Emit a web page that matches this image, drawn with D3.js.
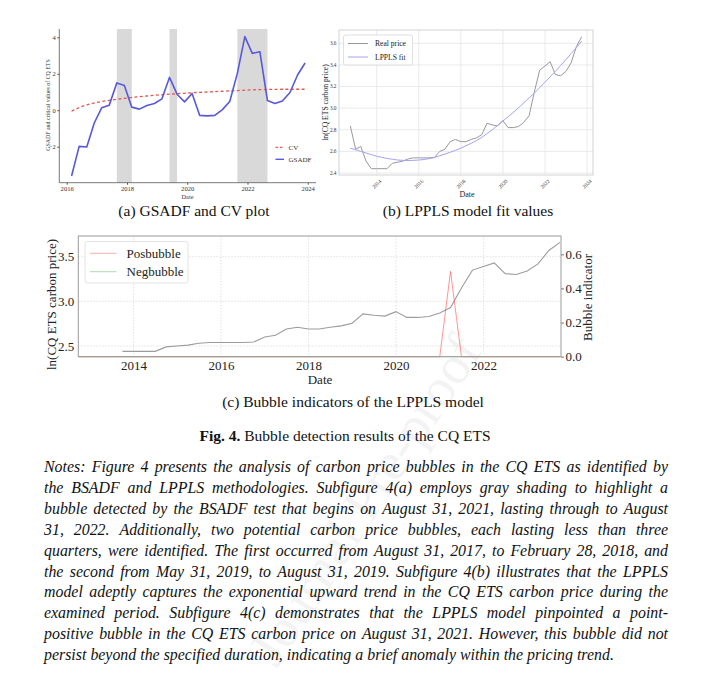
<!DOCTYPE html>
<html><head><meta charset="utf-8">
<script src="https://cdn.jsdelivr.net/npm/d3@7/dist/d3.min.js"></script>
<style>body{margin:0;background:#fff}svg{display:block}</style>
</head><body>
<svg id="fig" width="702" height="681"></svg>
<script>
// ---------- DATA ----------
// (a) GSADF statistic and critical values (quarter-end dates)
const gsadfDates = ["2016-02-29","2016-05-31","2016-08-31","2016-11-30","2017-02-28","2017-05-31","2017-08-31","2017-11-30",
  "2018-02-28","2018-05-31","2018-08-31","2018-11-30","2019-02-28","2019-05-31","2019-08-31","2019-11-30",
  "2020-02-29","2020-05-31","2020-08-31","2020-11-30","2021-02-28","2021-05-31","2021-08-31","2021-11-30",
  "2022-02-28","2022-05-31","2022-08-31","2022-11-30","2023-02-28","2023-05-31","2023-08-31","2023-11-30"];
const gsadfValues = [-3.61,-1.98,-2.02,-0.70,0.13,0.28,1.50,1.36,0.17,0.06,0.26,0.37,0.62,1.80,0.88,0.46,
  0.92,-0.28,-0.31,-0.28,0.02,0.48,2.02,4.04,3.12,3.21,0.53,0.37,0.51,0.97,1.93,2.59];
const cvValues = [-0.05,0.15,0.30,0.40,0.48,0.54,0.60,0.65,0.70,0.74,0.78,0.82,0.85,0.88,0.91,0.93,
  0.96,0.98,1.00,1.02,1.04,1.06,1.08,1.10,1.12,1.13,1.14,1.14,1.15,1.15,1.15,1.15];
const bubbleStarts = ["2017-08-31","2019-05-31","2021-08-31"];
const bubbleEnds   = ["2018-02-28","2019-08-31","2022-08-31"];
const aYTicks = [-2,0,2,4];
const aXTicks = ["2016","2018","2020","2022","2024"];

// (b)/(c) ln carbon price, LPPLS fit, bubble indicators (quarterly)
const priceDates = ["2012-09-30","2012-12-31","2013-03-31","2013-06-30","2013-09-30","2013-12-31","2014-03-31","2014-06-30",
  "2014-09-30","2014-12-31","2015-03-31","2015-06-30","2015-09-30","2015-12-31","2016-03-31","2016-06-30",
  "2016-09-30","2016-12-31","2017-03-31","2017-06-30","2017-09-30","2017-12-31","2018-03-31","2018-06-30",
  "2018-09-30","2018-12-31","2019-03-31","2019-06-30","2019-09-30","2019-12-31","2020-03-31","2020-06-30",
  "2020-09-30","2020-12-31","2021-03-31","2021-06-30","2021-09-30","2021-12-31","2022-03-31","2022-06-30",
  "2022-09-30","2022-12-31","2023-03-31","2023-06-30","2023-09-30"];
const realPrice = [2.835,2.62,2.645,2.51,2.44,2.44,2.44,2.44,2.49,2.50,2.51,2.53,2.54,2.54,2.54,2.54,
  2.545,2.60,2.62,2.69,2.71,2.69,2.69,2.71,2.725,2.755,2.86,2.845,2.835,2.885,2.82,2.82,
  2.83,2.87,2.93,3.15,3.35,3.39,3.43,3.31,3.30,3.34,3.42,3.57,3.66];
const lpplsFit = [2.63,2.615,2.60,2.585,2.57,2.555,2.545,2.535,2.527,2.52,2.517,2.515,2.517,2.52,2.525,2.533,
  2.543,2.56,2.575,2.592,2.61,2.63,2.652,2.675,2.70,2.73,2.765,2.80,2.84,2.88,2.92,2.96,
  3.005,3.05,3.095,3.14,3.19,3.24,3.29,3.34,3.395,3.45,3.505,3.56,3.62];
const posBubble = [0,0,0,0,0,0,0,0,0,0,0,0,0,0,0,0,0,0,0,0,0,0,0,0,0,0,0,0,0,0,0,0,0,0,0.5,0,0,0,0,0,0,0,0,0,0];
const negBubble = [0,0,0,0,0,0,0,0,0,0,0,0,0,0,0,0,0,0,0,0,0,0,0,0,0,0,0,0,0,0,0,0,0,0,0,0,0,0,0,0,0,0,0,0,0];
const indicatorFrom = "2013-09-30";
const bYTicks = [2.4,2.6,2.8,3.0,3.2,3.4,3.6];
const bXTicks = ["2014","2016","2018","2020","2022","2024"];
const cYTicks = [2.5,3.0,3.5];
const cY2Ticks = [0.0,0.2,0.4,0.6];
const cXTicks = ["2014","2016","2018","2020","2022"];

const notesLines = [
 "Notes: Figure 4 presents the analysis of carbon price bubbles in the CQ ETS as identified by",
 "the BSADF and LPPLS methodologies. Subfigure 4(a) employs gray shading to highlight a",
 "bubble detected by the BSADF test that begins on August 31, 2021, lasting through to August",
 "31, 2022. Additionally, two potential carbon price bubbles, each lasting less than three",
 "quarters, were identified. The first occurred from August 31, 2017, to February 28, 2018, and",
 "the second from May 31, 2019, to August 31, 2019. Subfigure 4(b) illustrates that the LPPLS",
 "model adeptly captures the exponential upward trend in the CQ ETS carbon price during the",
 "examined period. Subfigure 4(c) demonstrates that the LPPLS model pinpointed a point-",
 "positive bubble in the CQ ETS carbon price on August 31, 2021. However, this bubble did not",
 "persist beyond the specified duration, indicating a brief anomaly within the pricing trend."];

// ---------- DRAW ----------
const svg = d3.select("#fig");
const serif = "'Liberation Serif','Times New Roman',Times,serif";
const parse = d3.timeParse("%Y-%m-%d");
const yr = s => parse(s + "-01-01");

svg.append("rect").attr("width",702).attr("height",681).attr("fill","#fff");
// faint watermark
svg.append("text").attr("transform","translate(365,500) rotate(-57)")
  .attr("text-anchor","middle").attr("dominant-baseline","central")
  .style("font-family",serif).style("font-size","54px").attr("fill","#f3f3f3")
  .text("Journal Pre-proof");

function txt(g, x, y, s, size, opts={}) {
  const t = g.append("text").attr("x",x).attr("y",y).text(s)
    .style("font-family",serif).style("font-size",size+"px").attr("fill",opts.fill||"#111");
  if (opts.anchor) t.attr("text-anchor",opts.anchor);
  if (opts.rotate!==undefined) t.attr("transform",`rotate(${opts.rotate},${x},${y})`);
  if (opts.weight) t.style("font-weight",opts.weight);
  return t;
}

// ===== Panel (a) =====
{
  const P = {l:59.3, r:316, t:29, b:182.7};
  const g = svg.append("g");
  const x = d3.scaleTime().domain([yr("2016"), yr("2024")]).range([66.7, 307.7]);
  const y = d3.scaleLinear().domain([-2, 4]).range([146.7, 37.3]);
  g.selectAll("rect.band").data(bubbleStarts.map((s,i)=>[s,bubbleEnds[i]])).join("rect")
    .attr("x", d=>x(parse(d[0]))).attr("width", d=>x(parse(d[1]))-x(parse(d[0])))
    .attr("y", P.t).attr("height", P.b-P.t).attr("fill","#d9d9d9");
  const dates = gsadfDates.map(parse);
  const line = d3.line().x((d,i)=>x(dates[i])).y(d=>y(d));
  g.append("path").datum(cvValues).attr("d",line).attr("fill","none")
    .attr("stroke","#e8574f").attr("stroke-width",1.3).attr("stroke-dasharray","3,2.4");
  g.append("path").datum(gsadfValues).attr("d",line).attr("fill","none")
    .attr("stroke","#5858dc").attr("stroke-width",1.6).attr("stroke-linejoin","round");
  g.append("line").attr("x1",P.l).attr("x2",P.l).attr("y1",P.t).attr("y2",P.b).attr("stroke","#555").attr("stroke-width",0.8);
  g.append("line").attr("x1",P.l).attr("x2",P.r).attr("y1",P.b).attr("y2",P.b).attr("stroke","#555").attr("stroke-width",0.8);
  const ax = g.append("g").attr("transform",`translate(0,${P.b})`)
    .call(d3.axisBottom(x).tickValues(aXTicks.map(yr)).tickFormat(d3.timeFormat("%Y")).tickSize(2).tickPadding(1.2));
  ax.select(".domain").remove();
  ax.selectAll("line").attr("stroke","#555");
  ax.selectAll("text").style("font-family",serif).style("font-size","6.6px").attr("fill","#333");
  const ay = g.append("g").attr("transform",`translate(${P.l},0)`)
    .call(d3.axisLeft(y).tickValues(aYTicks).tickFormat(d3.format("d")).tickSize(2).tickPadding(1.5));
  ay.select(".domain").remove();
  ay.selectAll("line").attr("stroke","#555");
  ay.selectAll("text").style("font-family",serif).style("font-size","6.5px").attr("fill","#333");
  txt(g, 187.5, 199, "Date", 6.3, {anchor:"middle", fill:"#333"});
  txt(g, 50, 105, "GSADF and critical values of CQ ETS", 5.9, {anchor:"middle", rotate:-90, fill:"#333"});
  g.append("line").attr("x1",275.5).attr("x2",284).attr("y1",147.3).attr("y2",147.3)
    .attr("stroke","#e8574f").attr("stroke-width",1.2).attr("stroke-dasharray","2.5,2");
  g.append("line").attr("x1",275.5).attr("x2",284).attr("y1",159.3).attr("y2",159.3)
    .attr("stroke","#5858dc").attr("stroke-width",1.4);
  txt(g, 288.5, 149.8, "CV", 7, {fill:"#333"});
  txt(g, 288.5, 161.8, "GSADF", 7, {fill:"#333"});
}

// ===== Panel (b) =====
{
  const P = {l:339, r:593, t:30, b:175};
  const g = svg.append("g");
  const x = d3.scaleTime().domain([yr("2014"), yr("2022")]).range([376.7, 545]);
  const y = d3.scaleLinear().domain([2.4, 3.6]).range([173, 43.3]);
  const dates = priceDates.map(parse);
  g.selectAll("line.gx").data(bXTicks.map(yr)).join("line")
    .attr("x1",d=>x(d)).attr("x2",d=>x(d)).attr("y1",P.t).attr("y2",P.b).attr("stroke","#e4e4e4").attr("stroke-width",0.8);
  g.selectAll("line.gy").data(bYTicks).join("line")
    .attr("x1",P.l).attr("x2",P.r).attr("y1",d=>y(d)).attr("y2",d=>y(d)).attr("stroke","#e4e4e4").attr("stroke-width",0.8);
  const line = d3.line().x((d,i)=>x(dates[i])).y(d=>y(d));
  g.append("path").datum(realPrice).attr("d",line).attr("fill","none").attr("stroke","#999").attr("stroke-width",1);
  g.append("path").datum(lpplsFit).attr("d",line).attr("fill","none").attr("stroke","#a3a3f5").attr("stroke-width",1);
  g.append("rect").attr("x",P.l).attr("y",P.t).attr("width",P.r-P.l).attr("height",P.b-P.t)
    .attr("fill","none").attr("stroke","#cfcfcf").attr("stroke-width",0.9);
  g.selectAll("text.yt").data(bYTicks).join("text")
    .attr("x",P.l-2.5).attr("y",d=>y(d)).attr("dy","0.35em").attr("text-anchor","end")
    .style("font-family",serif).style("font-size","5.3px").attr("fill","#333").text(d3.format(".1f"));
  g.selectAll("text.xt").data(bXTicks).join("text")
    .attr("transform",d=>`translate(${x(yr(d))},184) rotate(-45)`)
    .attr("text-anchor","middle").attr("dy","0.35em")
    .style("font-family",serif).style("font-size","5.3px").attr("fill","#333").text(d=>d);
  txt(g, 467, 196.5, "Date", 8, {anchor:"middle", fill:"#222"});
  txt(g, 327.5, 102.5, "ln(CQ ETS carbon price)", 7.6, {anchor:"middle", rotate:-90, fill:"#222"});
  g.append("rect").attr("x",343.5).attr("y",35).attr("width",69).attr("height",30).attr("rx",2)
    .attr("fill","#fff").attr("fill-opacity",0.85).attr("stroke","#d8d8d8").attr("stroke-width",0.8);
  g.append("line").attr("x1",348).attr("x2",368).attr("y1",43.5).attr("y2",43.5).attr("stroke","#999").attr("stroke-width",1);
  g.append("line").attr("x1",348).attr("x2",368).attr("y1",57).attr("y2",57).attr("stroke","#a3a3f5").attr("stroke-width",1);
  txt(g, 375, 46.3, "Real price", 7.6, {fill:"#222"});
  txt(g, 375, 59.8, "LPPLS fit", 7.6, {fill:"#222"});
}

// ===== Panel (c) =====
{
  const P = {l:78.3, r:561, t:236, b:356.7};
  const fs = 13;
  const g = svg.append("g");
  const x = d3.scaleTime().domain([yr("2014"), yr("2022")]).range([133.6, 483.6]);
  const y = d3.scaleLinear().domain([2.5, 3.5]).range([346, 256.7]);
  const y2 = d3.scaleLinear().domain([0, 0.6]).range([356.7, 254.3]);
  const dates = priceDates.map(parse);
  const start = parse(indicatorFrom);
  g.selectAll("line.gx").data(cXTicks.map(yr)).join("line")
    .attr("x1",d=>x(d)).attr("x2",d=>x(d)).attr("y1",P.t).attr("y2",P.b)
    .attr("stroke","#d6d6d6").attr("stroke-width",0.7).attr("stroke-dasharray","1.5,1.5");
  g.selectAll("line.gy").data(cYTicks).join("line")
    .attr("x1",P.l).attr("x2",P.r).attr("y1",d=>y(d)).attr("y2",d=>y(d))
    .attr("stroke","#d6d6d6").attr("stroke-width",0.7).attr("stroke-dasharray","1.5,1.5");
  const pts = realPrice.map((v,i)=>[dates[i],v]).filter(d=>d[0]>=start);
  g.append("path").datum(pts).attr("d",d3.line().x(d=>x(d[0])).y(d=>y(d[1])))
    .attr("fill","none").attr("stroke","#9c9c9c").attr("stroke-width",1.1);
  const l2 = d3.line().x((d,i)=>x(dates[i])).y(d=>y2(d));
  g.append("path").datum(negBubble).attr("d",l2).attr("fill","none").attr("stroke","#5a5").attr("stroke-opacity",0.5).attr("stroke-width",1);
  g.append("path").datum(posBubble).attr("d",l2).attr("fill","none").attr("stroke","#ff4d4d").attr("stroke-opacity",0.6).attr("stroke-width",1);
  g.append("rect").attr("x",P.l).attr("y",P.t).attr("width",P.r-P.l).attr("height",P.b-P.t)
    .attr("fill","none").attr("stroke","#9a9a9a").attr("stroke-width",1);
  const ax = g.append("g").attr("transform",`translate(0,${P.b})`)
    .call(d3.axisBottom(x).tickValues(cXTicks.map(yr)).tickFormat(d3.timeFormat("%Y")).tickSize(0).tickPadding(4.5));
  ax.select(".domain").remove();
  ax.selectAll("text").style("font-family",serif).style("font-size",fs+"px").attr("fill","#222");
  const ay = g.append("g").attr("transform",`translate(${P.l},0)`)
    .call(d3.axisLeft(y).tickValues(cYTicks).tickFormat(d3.format(".1f")).tickSize(0).tickPadding(4));
  ay.select(".domain").remove();
  ay.selectAll("text").style("font-family",serif).style("font-size",fs+"px").attr("fill","#222");
  const ay2 = g.append("g").attr("transform",`translate(${P.r},0)`)
    .call(d3.axisRight(y2).tickValues(cY2Ticks).tickFormat(d3.format(".1f")).tickSize(3).tickPadding(1.5));
  ay2.select(".domain").remove();
  ay2.selectAll("line").attr("stroke","#777");
  ay2.selectAll("text").style("font-family",serif).style("font-size",fs+"px").attr("fill","#222");
  txt(g, 320, 384, "Date", fs, {anchor:"middle", fill:"#222"});
  txt(g, 55.5, 304.5, "ln(CQ ETS carbon price)", fs, {anchor:"middle", rotate:-90, fill:"#222"});
  txt(g, 591.5, 297.5, "Bubble indicator", fs, {anchor:"middle", rotate:-90, fill:"#222"});
  g.append("rect").attr("x",85).attr("y",241.5).attr("width",103).attr("height",41.5).attr("rx",2.5)
    .attr("fill","#fff").attr("fill-opacity",0.85).attr("stroke","#dcdcdc").attr("stroke-width",0.8);
  g.append("line").attr("x1",90).attr("x2",116.5).attr("y1",253.3).attr("y2",253.3).attr("stroke","#ff4d4d").attr("stroke-opacity",0.45).attr("stroke-width",1);
  g.append("line").attr("x1",90).attr("x2",116.5).attr("y1",271.7).attr("y2",271.7).attr("stroke","#5a5").attr("stroke-opacity",0.45).attr("stroke-width",1);
  txt(g, 126.5, 257.6, "Posbubble", fs, {fill:"#222"});
  txt(g, 126.5, 276, "Negbubble", fs, {fill:"#222"});
}

// ===== Captions =====
txt(svg, 194, 216, "(a) GSADF and CV plot", 15.5, {anchor:"middle"});
txt(svg, 468, 216, "(b) LPPLS model fit values", 15.5, {anchor:"middle"});
txt(svg, 353, 407, "(c) Bubble indicators of the LPPLS model", 15.5, {anchor:"middle"});
{
  const t = svg.append("text").attr("x",345).attr("y",441).attr("text-anchor","middle")
    .style("font-family",serif).style("font-size","15.5px").attr("fill","#111");
  t.append("tspan").style("font-weight","bold").text("Fig. 4.");
  t.append("tspan").text(" Bubble detection results of the CQ ETS");
}

// ===== Notes (justified italic paragraph) =====
{
  const x0 = 44, x1 = 668, y0 = 472, lh = 20.9, fs = 15.9;
  const meas = svg.append("text").style("font-family",serif).style("font-size",fs+"px").style("font-style","italic");
  const wWidth = w => { meas.text(w); return meas.node().getComputedTextLength(); };
  const spaceW = wWidth("a a") - wWidth("aa");
  notesLines.forEach((ln, i) => {
    const words = ln.split(" ");
    const ws = words.map(wWidth);
    const sum = d3.sum(ws);
    const last = i === notesLines.length - 1;
    const gap = last ? spaceW : (x1 - x0 - sum) / (words.length - 1);
    const t = svg.append("text").attr("y", y0 + i*lh)
      .style("font-family",serif).style("font-size",fs+"px").style("font-style","italic").attr("fill","#111");
    let cx = x0;
    words.forEach((w,j) => { t.append("tspan").attr("x",cx).text(w); cx += ws[j] + gap; });
  });
  meas.remove();
}
</script>
</body></html>
